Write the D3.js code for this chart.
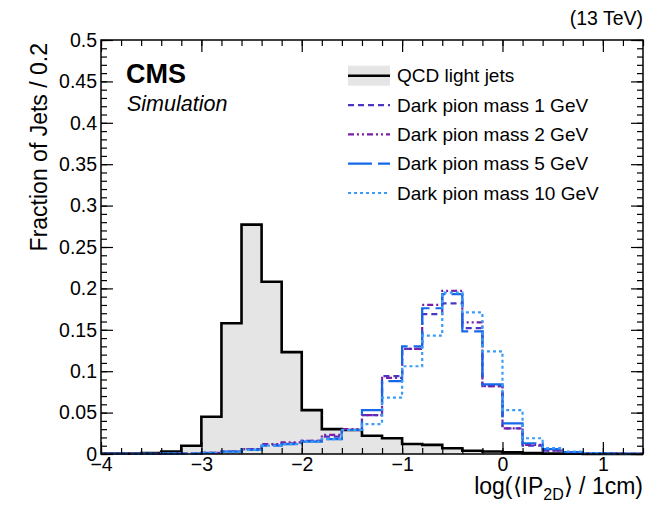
<!DOCTYPE html>
<html>
<head>
<meta charset="utf-8">
<script src="https://cdn.jsdelivr.net/npm/d3@7"></script>
<style>
  body { margin: 0; background: #fff; }
  text { font-family: "Liberation Sans", Arial, sans-serif; }
</style>
</head>
<body>
<div id="chart"></div>
<script>
// --------------- Data ---------------
const binEdges = d3.range(28).map((i) => +(-4 + i * 0.2).toFixed(1)); // -4 .. 1.4, width 0.2

const qcd = [0.0005, 0.0005, 0.001, 0.003, 0.010, 0.045, 0.158, 0.277, 0.208, 0.123,
  0.053, 0.030, 0.029, 0.022, 0.019, 0.012, 0.011, 0.007, 0.004, 0.003,
  0.002, 0.001, 0.0005, 0.0003, 0.0002, 0.0001, 0];
const mass1 = [0.0003, 0.0003, 0.0003, 0.0005, 0.0005, 0.0015, 0.003, 0.006, 0.011, 0.013,
  0.016, 0.021, 0.029, 0.047, 0.094, 0.127, 0.169, 0.182, 0.152, 0.082,
  0.031, 0.010, 0.004, 0.002, 0.001, 0.0005, 0.0003];
const mass2 = [0.0003, 0.0003, 0.0003, 0.0005, 0.0005, 0.0015, 0.003, 0.006, 0.012, 0.014,
  0.016, 0.023, 0.030, 0.047, 0.092, 0.127, 0.180, 0.197, 0.159, 0.082,
  0.031, 0.011, 0.004, 0.002, 0.001, 0.0005, 0.0003];
const mass5 = [0.0003, 0.0003, 0.0003, 0.0005, 0.0005, 0.0015, 0.003, 0.005, 0.010, 0.012,
  0.015, 0.018, 0.029, 0.053, 0.088, 0.130, 0.176, 0.193, 0.148, 0.084,
  0.037, 0.013, 0.006, 0.002, 0.001, 0.0005, 0.0003];
const mass10 = [0.0003, 0.0003, 0.0003, 0.0005, 0.0005, 0.001, 0.002, 0.005, 0.010, 0.012,
  0.015, 0.018, 0.029, 0.036, 0.068, 0.106, 0.143, 0.195, 0.171, 0.124,
  0.053, 0.019, 0.007, 0.003, 0.001, 0.0005, 0.0003];

const seriesNames = ["Dark pion mass 1 GeV", "Dark pion mass 2 GeV", "Dark pion mass 5 GeV", "Dark pion mass 10 GeV"];
const xTicks = [-4, -3, -2, -1, 0, 1];
const yTicks = [0, 0.05, 0.1, 0.15, 0.2, 0.25, 0.3, 0.35, 0.4, 0.45, 0.5];

// --------------- Constants ---------------
const WIDTH = 646, HEIGHT = 505;
const FRAME = { left: 101, right: 643, top: 40, bottom: 454 };
const TICK_FONT = 19.5;

const signals = [
  { name: seriesNames[0], values: mass1, color: "#4b36c4", dash: "6,4" },
  { name: seriesNames[1], values: mass2, color: "#7a1ea8", dash: "6,3,2,3,2,3" },
  { name: seriesNames[2], values: mass5, color: "#1469ea", dash: "24,6" },
  { name: seriesNames[3], values: mass10, color: "#3a9cf5", dash: "3,3" },
];

// --------------- Prep SVG ---------------
const svg = d3.select("#chart").append("svg")
  .attr("width", WIDTH).attr("height", HEIGHT);

const x = d3.scaleLinear().domain([-4, 1.4]).range([FRAME.left, FRAME.right]);
const y = d3.scaleLinear().domain([0, 0.5]).range([FRAME.bottom, FRAME.top]);

const stepPoints = (vals) => {
  const pts = vals.map((v, i) => [binEdges[i], v]);
  pts.push([binEdges[vals.length], vals[vals.length - 1]]);
  return pts;
};

const line = d3.line().x((d) => x(d[0])).y((d) => y(d[1])).curve(d3.curveStepAfter);
const area = d3.area().x((d) => x(d[0])).y0(y(0)).y1((d) => y(d[1])).curve(d3.curveStepAfter);

// QCD filled histogram
svg.append("path").datum(stepPoints(qcd))
  .attr("d", area).attr("fill", "#e5e5e5");
svg.append("path").datum(stepPoints(qcd))
  .attr("d", line).attr("fill", "none")
  .attr("stroke", "#000").attr("stroke-width", 2.6);

// signal histograms
signals.forEach((s) => {
  svg.append("path").datum(stepPoints(s.values))
    .attr("d", line).attr("fill", "none")
    .attr("stroke", s.color).attr("stroke-width", 2.2)
    .attr("stroke-dasharray", s.dash);
});

// --------------- Axes ---------------
const xMinor = d3.range(-4, 1.41, 0.2).map((v) => +v.toFixed(1));
const yMinor = d3.range(0, 0.501, 0.01).map((v) => +v.toFixed(2));
const fmtY = (d) => (d === 0 ? "0" : String(d));

const styleAxis = (g) => {
  g.select(".domain").remove();
  g.selectAll("line").attr("stroke", "#000").attr("stroke-width", 1.2);
  g.selectAll("text").attr("font-size", TICK_FONT).attr("fill", "#000")
    .attr("font-family", '"Liberation Sans", Arial, sans-serif');
};

// bottom
svg.append("g").attr("transform", `translate(0,${FRAME.bottom})`)
  .call(d3.axisBottom(x).tickValues(xMinor).tickSize(-6).tickFormat("")).call(styleAxis);
svg.append("g").attr("transform", `translate(0,${FRAME.bottom})`)
  .call(d3.axisBottom(x).tickValues(xTicks).tickSize(-12).tickPadding(3).tickFormat(d3.format("d")))
  .call(styleAxis);
// top
svg.append("g").attr("transform", `translate(0,${FRAME.top})`)
  .call(d3.axisTop(x).tickValues(xMinor).tickSize(-6).tickFormat("")).call(styleAxis);
svg.append("g").attr("transform", `translate(0,${FRAME.top})`)
  .call(d3.axisTop(x).tickValues(xTicks).tickSize(-12).tickFormat("")).call(styleAxis);
// left
svg.append("g").attr("transform", `translate(${FRAME.left},0)`)
  .call(d3.axisLeft(y).tickValues(yMinor).tickSize(-6).tickFormat("")).call(styleAxis);
svg.append("g").attr("transform", `translate(${FRAME.left},0)`)
  .call(d3.axisLeft(y).tickValues(yTicks).tickSize(-12).tickPadding(4).tickFormat(fmtY))
  .call(styleAxis);
// right
svg.append("g").attr("transform", `translate(${FRAME.right},0)`)
  .call(d3.axisRight(y).tickValues(yMinor).tickSize(-6).tickFormat("")).call(styleAxis);
svg.append("g").attr("transform", `translate(${FRAME.right},0)`)
  .call(d3.axisRight(y).tickValues(yTicks).tickSize(-12).tickFormat("")).call(styleAxis);

// frame
svg.append("rect")
  .attr("x", FRAME.left).attr("y", FRAME.top)
  .attr("width", FRAME.right - FRAME.left).attr("height", FRAME.bottom - FRAME.top)
  .attr("fill", "none").attr("stroke", "#000").attr("stroke-width", 1.5);

// --------------- Titles ---------------
svg.append("text")
  .attr("transform", `translate(47,${FRAME.top + 3}) rotate(-90)`)
  .attr("text-anchor", "end").attr("font-size", 23)
  .text("Fraction of Jets / 0.2");

const xt = svg.append("text").attr("x", FRAME.right).attr("y", 494)
  .attr("text-anchor", "end").attr("font-size", 23);
xt.append("tspan").text("log(\u27E8IP");
xt.append("tspan").attr("font-size", 16).attr("dy", 6).text("2D");
xt.append("tspan").attr("dy", -6).text("\u27E9 / 1cm)");

svg.append("text").attr("x", FRAME.right).attr("y", 25)
  .attr("text-anchor", "end").attr("font-size", 19.5).text("(13 TeV)");

svg.append("text").attr("x", 126).attr("y", 83)
  .attr("font-size", 27).attr("font-weight", "bold").text("CMS");
svg.append("text").attr("x", 127).attr("y", 111)
  .attr("font-size", 21.5).attr("font-style", "italic").text("Simulation");

// --------------- Legend ---------------
const legend = svg.append("g");
const LX0 = 348, LX1 = 390, LTEXT = 397;
const legendY = d3.scalePoint().domain(["QCD light jets", ...seriesNames]).range([75.7, 193]);

legend.append("rect").attr("x", LX0).attr("y", legendY("QCD light jets") - 10)
  .attr("width", LX1 - LX0).attr("height", 20).attr("fill", "#e5e5e5");
legend.append("line").attr("x1", LX0).attr("x2", LX1)
  .attr("y1", legendY("QCD light jets")).attr("y2", legendY("QCD light jets"))
  .attr("stroke", "#000").attr("stroke-width", 2.6);
legend.append("text").attr("x", LTEXT).attr("y", legendY("QCD light jets") + 6.5)
  .attr("font-size", 19).text("QCD light jets");

signals.forEach((s) => {
  const ly = legendY(s.name);
  legend.append("line").attr("x1", LX0).attr("x2", LX1).attr("y1", ly).attr("y2", ly)
    .attr("stroke", s.color).attr("stroke-width", 2.2).attr("stroke-dasharray", s.dash);
  legend.append("text").attr("x", LTEXT).attr("y", ly + 6.5)
    .attr("font-size", 19).text(s.name);
});
</script>
</body>
</html>
